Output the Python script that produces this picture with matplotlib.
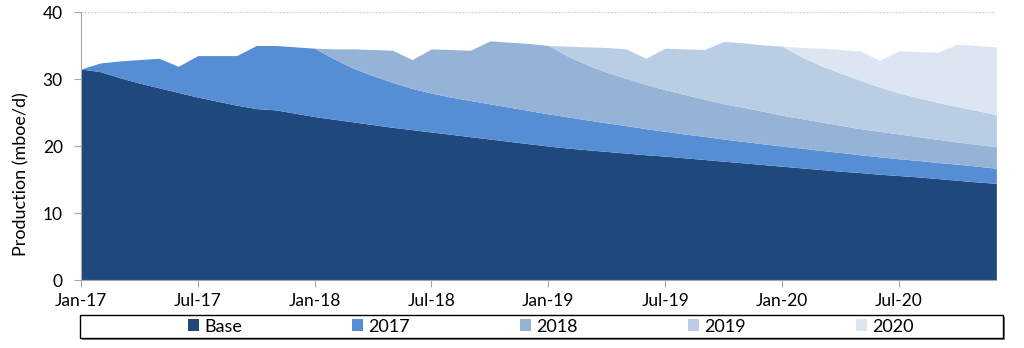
import matplotlib
matplotlib.use("Agg")
import matplotlib.pyplot as plt
import matplotlib.patches as mpatches
import numpy as np

plt.rcParams['font.family'] = ['Lato', 'DejaVu Sans']

# months Jan-17 .. Dec-20
months = np.arange(48)
tick_pos = [0, 6, 12, 18, 24, 30, 36, 42]
tick_labels = ['Jan-17', 'Jul-17', 'Jan-18', 'Jul-18', 'Jan-19', 'Jul-19', 'Jan-20', 'Jul-20']

# cumulative tops of each layer (mboe/d)
base = [31.5, 31.1, 30.2, 29.4, 28.7, 28.0, 27.3, 26.7, 26.1, 25.6, 25.4, 24.9,
        24.4, 24.0, 23.6, 23.2, 22.8, 22.45, 22.1, 21.75, 21.4, 21.05, 20.7, 20.35,
        20.0, 19.7, 19.45, 19.2, 18.95, 18.7, 18.5, 18.25, 18.0, 17.75, 17.5, 17.25,
        17.0, 16.75, 16.5, 16.25, 16.05, 15.8, 15.6, 15.4, 15.15, 14.9, 14.65, 14.45]

top_2017 = [31.5, 32.4, 32.7, 32.9, 33.1, 31.9, 33.5, 33.5, 33.5, 35.0, 35.0, 34.8,
            34.6, 33.0, 31.6, 30.5, 29.5, 28.6, 27.9, 27.3, 26.8, 26.3, 25.8, 25.3,
            24.8, 24.35, 23.9, 23.45, 23.05, 22.6, 22.2, 21.8, 21.45, 21.05, 20.7, 20.35,
            20.0, 19.7, 19.35, 19.05, 18.7, 18.4, 18.1, 17.85, 17.55, 17.3, 17.0, 16.7]

top_2018 = top_2017[:12] + [
            34.6, 34.5, 34.5, 34.4, 34.3, 32.9, 34.5, 34.4, 34.3, 35.7, 35.5, 35.3,
            35.0, 33.4, 32.1, 31.0, 30.1, 29.2, 28.4, 27.7, 27.0, 26.3, 25.8, 25.2,
            24.6, 24.1, 23.6, 23.1, 22.6, 22.2, 21.8, 21.4, 21.0, 20.6, 20.25, 19.9]

top_2019 = top_2018[:24] + [
            35.0, 34.9, 34.8, 34.7, 34.5, 33.1, 34.6, 34.5, 34.4, 35.6, 35.4, 35.1,
            34.9, 33.3, 32.0, 30.9, 29.8, 28.8, 27.9, 27.2, 26.5, 25.9, 25.3, 24.7]

top_2020 = top_2019[:36] + [
            34.9, 34.7, 34.6, 34.4, 34.2, 32.8, 34.2, 34.1, 34.0, 35.2, 35.0, 34.8]

names = ['Base', '2017', '2018', '2019', '2020']
colors = ['#1F497D', '#558ED5', '#95B3D7', '#B9CDE5', '#DCE6F2']

fig = plt.figure(figsize=(10.24, 3.48), dpi=100)
ax = fig.add_axes([0.079, 0.195, 0.894, 0.7705])

layers = [np.zeros(48), base, top_2017, top_2018, top_2019, top_2020]
handles = []
for i in range(5):
    h = ax.fill_between(months, layers[i], layers[i + 1], color=colors[i], lw=0, label=names[i], zorder=2)
    handles.append(h)

ax.set_xlim(0, 47)
ax.set_ylim(0, 40)
ax.set_yticks([0, 10, 20, 30, 40])
ax.set_xticks(tick_pos)
ax.set_xticklabels(tick_labels)
ax.yaxis.grid(True, color='#BFBFBF', ls=':', lw=0.9, zorder=0)
ax.set_axisbelow(True)
for s in ['top', 'right']:
    ax.spines[s].set_visible(False)
for s in ['left', 'bottom']:
    ax.spines[s].set_color('#A6A6A6')
ax.tick_params(axis='both', color='#A6A6A6', length=5, labelsize=12.5, labelcolor='black')
ax.tick_params(axis='y', pad=8)
ax.tick_params(axis='x', pad=4)
ax.set_ylabel('Production (mboe/d)', fontsize=13)
ax.yaxis.set_label_coords(-0.056, 0.395)

# legend box with shadow
fig.patches.append(mpatches.Rectangle((82 / 1024, 8 / 348), 923 / 1024, 23 / 348,
                                      transform=fig.transFigure, facecolor='#7F7F7F',
                                      edgecolor='none', zorder=-2))
fig.patches.append(mpatches.Rectangle((80 / 1024, 10 / 348), 923 / 1024, 23 / 348,
                                      transform=fig.transFigure, facecolor='white',
                                      edgecolor='black', lw=1, zorder=-1))
leg = fig.legend(handles, names, loc='center', bbox_to_anchor=(551 / 1024, 21.5 / 348),
                 ncol=5, frameon=False, fontsize=13, handlelength=0.6, handleheight=0.6,
                 handletextpad=0.3, columnspacing=6.1)

fig.savefig('out.png', dpi=100)
